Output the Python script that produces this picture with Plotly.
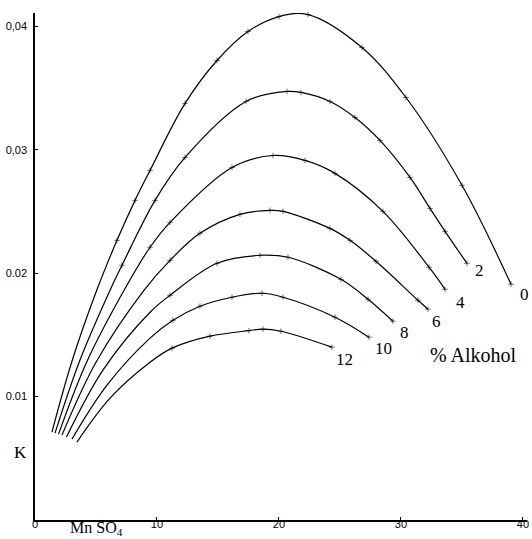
import plotly.graph_objects as go

# Mn SO4 concentration (x) and K (y), per % Alkohol
alk_labels = ["0", "2", "4", "6", "8", "10", "12"]

x0 = [1.39, 3.03, 5.06, 6.72, 8.20, 9.43, 12.30, 14.92, 17.46, 20.00, 22.38, 26.80, 30.41, 35.00, 39.02]
k0 = [0.00713, 0.01287, 0.01862, 0.02267, 0.02591, 0.02834, 0.03377, 0.03725, 0.03960, 0.04081, 0.04097, 0.03830, 0.03425, 0.02713, 0.01911]

x2 = [1.64, 3.65, 6.15, 7.13, 9.84, 12.30, 17.30, 20.66, 21.80, 24.18, 26.23, 28.28, 30.74, 32.38, 33.61, 35.41]
k2 = [0.00704, 0.01287, 0.01862, 0.02065, 0.02591, 0.02939, 0.03393, 0.03474, 0.03466, 0.03393, 0.03263, 0.03077, 0.02777, 0.02526, 0.02340, 0.02081]

x4 = [1.93, 4.23, 7.30, 9.43, 11.07, 16.15, 19.51, 22.13, 24.59, 28.52, 32.30, 33.61]
k4 = [0.00696, 0.01279, 0.01862, 0.02211, 0.02413, 0.02858, 0.02955, 0.02915, 0.02810, 0.02502, 0.02049, 0.01870]

x6 = [2.21, 5.00, 8.93, 11.07, 13.52, 16.80, 19.26, 20.33, 24.18, 25.82, 27.95, 31.39, 32.21]
k6 = [0.00688, 0.01279, 0.01862, 0.02105, 0.02324, 0.02478, 0.02510, 0.02502, 0.02364, 0.02267, 0.02097, 0.01781, 0.01709]

x8 = [2.58, 5.57, 9.43, 11.07, 14.92, 18.44, 20.74, 25.08, 27.30, 29.34]
k8 = [0.00672, 0.01215, 0.01684, 0.01822, 0.02081, 0.02146, 0.02130, 0.01951, 0.01789, 0.01611]

x10 = [3.03, 5.90, 9.43, 11.31, 13.52, 16.15, 18.61, 20.33, 24.59, 27.38]
k10 = [0.00656, 0.01093, 0.01474, 0.01619, 0.01733, 0.01806, 0.01838, 0.01806, 0.01644, 0.01482]

x12 = [3.44, 6.15, 9.43, 11.23, 14.34, 17.54, 18.69, 20.16, 24.34]
k12 = [0.00632, 0.00988, 0.01279, 0.01393, 0.01490, 0.01535, 0.01547, 0.01530, 0.01401]

series_x = [x0, x2, x4, x6, x8, x10, x12]
series_k = [k0, k2, k4, k6, k8, k10, k12]

x_ticks = [0, 10, 20, 30, 40]
x_tick_text = ["0", "10", "20", "30", "40"]
y_ticks = [0.01, 0.02, 0.03, 0.04]
y_tick_text = ["0.01", "0.02", "0,03", "0,04"]

# curve label offsets (data units) from each curve's last point
label_dx = [0.55, 0.5, 0.7, 0.15, 0.45, 0.3, 0.2]
label_dy = [-0.0008, -0.0006, -0.0011, -0.0010, -0.0009, -0.0009, -0.0010]

fig = go.Figure()
for xs, ks in zip(series_x, series_k):
    sizes = [0, 0, 0] + [4] * (len(xs) - 3)
    fig.add_trace(go.Scatter(
        x=xs, y=ks, mode="lines+markers",
        line=dict(color="black", width=1.2, shape="spline", smoothing=1.0),
        marker=dict(symbol="cross-thin", size=sizes, line=dict(color="black", width=0.8)),
        showlegend=False, hoverinfo="skip", cliponaxis=False,
    ))

tickfont = dict(family="Liberation Sans Narrow, Liberation Sans, Arial, sans-serif", size=11, color="black")

# x tick labels drawn as text marks just below the axis line
fig.add_trace(go.Scatter(
    x=x_ticks, y=[0] * len(x_ticks), mode="text", text=x_tick_text,
    textposition="bottom center", textfont=tickfont,
    showlegend=False, hoverinfo="skip", cliponaxis=False,
))

serif = "Liberation Serif, Times New Roman, serif"
for lab, xs, ks, dx, dy in zip(alk_labels, series_x, series_k, label_dx, label_dy):
    fig.add_annotation(x=xs[-1] + dx, y=ks[-1] + dy, text=lab, showarrow=False,
                       xanchor="left", yanchor="middle",
                       font=dict(family=serif, size=17, color="black"))

PW = 492  # plot width in px
fig.add_annotation(xref="paper", yref="paper", x=(473 - 35) / PW, y=(520 - 355) / 507,
                   text="% Alkohol", showarrow=False, xanchor="center", yanchor="middle",
                   font=dict(family=serif, size=20, color="black"))
fig.add_annotation(xref="paper", yref="paper", x=(20 - 35) / PW, y=(520 - 452) / 507,
                   text="K", showarrow=False, xanchor="center", yanchor="middle",
                   font=dict(family=serif, size=17, color="black"))
fig.add_annotation(xref="paper", yref="paper", x=(96 - 35) / PW, y=(520 - 528) / 507,
                   text="Mn SO<sub>4</sub>", showarrow=False, xanchor="center", yanchor="middle",
                   font=dict(family=serif, size=16, color="black"))

fig.update_layout(
    width=532, height=539,
    margin=dict(l=35, r=5, t=13, b=19, autoexpand=False),
    paper_bgcolor="white", plot_bgcolor="white",
    xaxis=dict(range=[0, 40.33], tickvals=x_ticks, showticklabels=False, automargin=False,
               showline=True, linecolor="black", linewidth=1.5, showgrid=False,
               zeroline=False, ticks="inside", ticklen=3, tickcolor="black"),
    yaxis=dict(range=[0, 0.0411], tickvals=y_ticks, ticktext=y_tick_text, automargin=False,
               showline=True, linecolor="black", linewidth=1.5, showgrid=False,
               zeroline=False, ticks="inside", ticklen=3, tickcolor="black",
               tickfont=tickfont, ticklabelstandoff=4),
)

fig.write_html("out.html", config={"displayModeBar": False},
               post_script="document.body.style.margin='0';document.body.style.overflow='hidden';")
